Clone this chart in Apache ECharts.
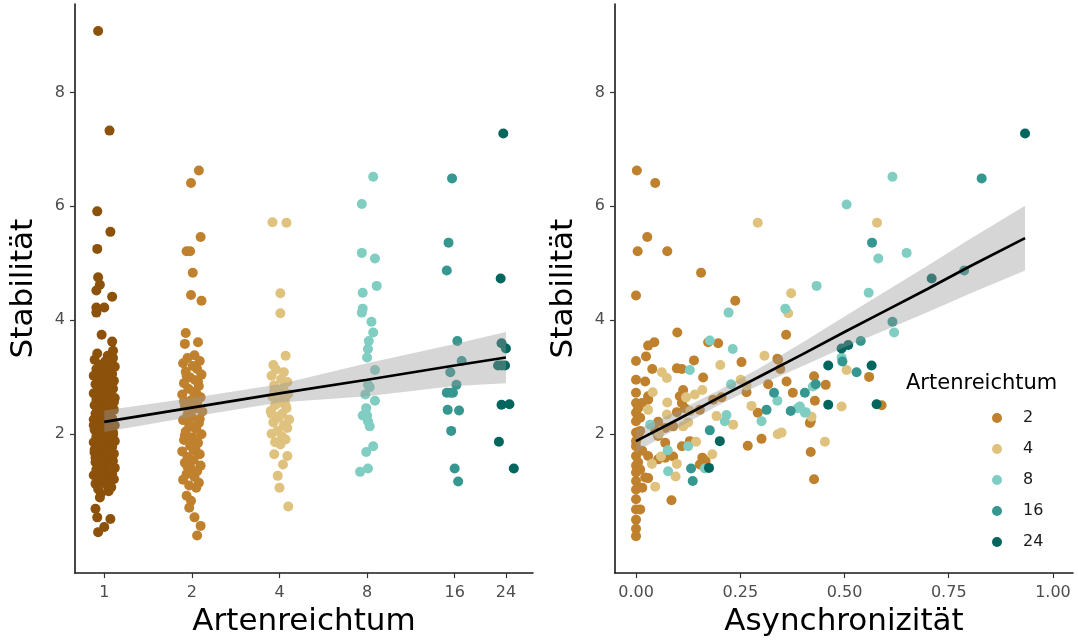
<!DOCTYPE html>
<html>
<head>
<meta charset="utf-8">
<script src="https://cdn.jsdelivr.net/npm/echarts@6/dist/echarts.min.js"></script>
<style>
html,body{margin:0;padding:0;background:#fff;}
#chart{width:1078px;height:642px;}
</style>
</head>
<body>
<div id="chart"></div>
<script>
// ---------- DATA ----------
const richnessLevels = [1, 2, 4, 8, 16, 24];
const legendLevels = ['2', '4', '8', '16', '24'];
const xTickLabelsLeft = ['1', '2', '4', '8', '16', '24'];
const xTickValuesRight = [0, 0.25, 0.5, 0.75, 1.0];
const yTickValues = [2, 4, 6, 8];

// Left panel: [jitter (log2 units), Stabilität] per richness level
const pts1 = [
  [-0.07,9.08],[0.06,7.33],[-0.08,5.91],[0.07,5.55],[-0.08,5.25],[-0.07,4.75],[-0.05,4.62],[-0.09,4.52],[0.09,4.41],[-0.09,4.22],[0.00,4.22],[-0.09,4.13],
  [-0.03,3.74],[0.09,3.62],[0.10,3.46],
  [-0.08,3.41],[0.04,3.37],[0.10,3.33],[-0.11,3.30],[0.01,3.27],[0.07,3.24],[-0.05,3.21],[0.12,3.18],[-0.09,3.14],[0.03,3.11],
  [-0.02,3.08],[0.09,3.05],[-0.12,3.02],[0.05,2.99],[-0.06,2.96],[0.11,2.93],[0.00,2.90],[-0.10,2.87],[0.07,2.85],[-0.03,2.82],
  [0.10,2.79],[-0.07,2.76],[0.02,2.74],[-0.12,2.71],[0.06,2.68],[-0.04,2.66],[0.12,2.63],[-0.09,2.60],[0.04,2.58],[-0.01,2.55],
  [0.08,2.52],[-0.11,2.50],[0.01,2.47],[-0.06,2.45],[0.11,2.42],[-0.02,2.40],[0.06,2.37],[-0.10,2.35],[0.03,2.32],[-0.05,2.30],
  [0.09,2.27],[-0.12,2.25],[0.00,2.22],[0.07,2.20],[-0.08,2.17],[0.12,2.15],[-0.03,2.12],[0.05,2.10],[-0.11,2.07],[0.02,2.05],
  [0.10,2.02],[-0.06,2.00],[0.04,1.97],[-0.09,1.95],[0.08,1.92],[-0.01,1.90],[0.12,1.87],[-0.12,1.85],[0.03,1.82],[-0.05,1.80],
  [0.09,1.77],[-0.08,1.75],[0.01,1.72],[0.06,1.70],[-0.11,1.67],[0.11,1.65],[-0.03,1.62],[0.05,1.60],[-0.07,1.57],[0.02,1.55],
  [0.10,1.52],[-0.10,1.50],[0.00,1.47],[0.07,1.45],[-0.05,1.42],[0.12,1.40],[-0.09,1.37],[0.04,1.35],[-0.02,1.32],[0.09,1.30],
  [-0.12,1.27],[0.01,1.25],[-0.06,1.22],[0.11,1.20],[-0.03,1.17],[0.06,1.15],[-0.10,1.12],[0.03,1.10],[0.08,1.06],[-0.07,1.03],
  [0.05,0.99],[-0.04,0.95],
  [0.05,3.29],[-0.07,3.05],[0.08,2.88],[-0.01,2.70],[-0.09,2.48],[0.06,2.28],[-0.04,2.09],[0.10,1.98],[-0.08,1.83],[0.03,1.68],
  [-0.10,1.58],[0.07,1.41],[-0.05,1.28],[0.11,2.56],[-0.12,2.15],[0.00,1.92],[0.09,3.16],[-0.03,2.97],[0.04,2.61],[-0.11,1.72],
  [-0.05,0.88],[-0.10,0.68],[0.07,0.50],[-0.08,0.53],[0.00,0.36],[-0.07,0.27]
];
const pts2 = [
  [0.08,6.63],[-0.01,6.41],[0.10,5.46],[-0.06,5.21],[-0.02,5.21],[0.01,4.83],[-0.01,4.44],[0.11,4.34],[-0.07,3.77],[-0.08,3.58],[0.07,3.61],
  [0.03,3.38],[-0.05,3.33],[0.09,3.28],[-0.10,3.24],[0.01,3.19],[0.06,3.14],[-0.07,3.09],[0.11,3.04],[-0.02,2.99],[0.04,2.94],
  [-0.09,2.89],[0.08,2.84],[-0.04,2.79],[0.02,2.74],[-0.11,2.69],[0.10,2.64],[-0.01,2.59],[0.06,2.54],[-0.08,2.49],[0.03,2.44],
  [0.12,2.39],[-0.05,2.34],[0.00,2.29],[-0.10,2.24],[0.08,2.19],[-0.03,2.14],[0.05,2.09],[-0.07,2.04],[0.11,1.99],[0.01,1.94],
  [-0.09,1.89],[0.07,1.84],[-0.02,1.79],[0.04,1.74],[-0.11,1.69],[0.09,1.64],[-0.05,1.59],[0.02,1.54],[-0.08,1.49],[0.10,1.44],
  [-0.01,1.39],[0.06,1.34],[-0.06,1.29],[0.03,1.24],[-0.10,1.19],[0.08,1.14],[-0.03,1.09],[0.05,1.05],
  [-0.06,3.02],[0.05,2.71],[-0.02,2.46],[0.09,2.26],[-0.08,1.97],[0.02,1.71],[-0.05,1.42],[0.07,2.92],[-0.09,2.57],[0.01,2.12],
  [-0.06,0.91],[-0.01,0.82],[-0.03,0.70],[0.03,0.53],[0.10,0.38],[0.06,0.21]
];
const pts4 = [
  [-0.08,5.72],[0.08,5.71],[0.01,4.47],[0.01,4.12],[0.07,3.37],[-0.07,3.21],
  [-0.04,3.13],[0.05,3.08],[-0.09,3.02],[0.02,2.96],[0.09,2.91],[-0.06,2.85],[0.04,2.80],[-0.02,2.74],[0.10,2.70],[-0.08,2.65],
  [0.06,2.60],[0.00,2.55],[-0.05,2.50],[0.08,2.45],[-0.10,2.40],[0.03,2.35],[-0.03,2.30],[0.11,2.25],[-0.07,2.20],[0.05,2.15],
  [0.09,2.10],[-0.02,2.05],[-0.09,2.00],[0.03,1.95],[0.07,1.90],[-0.05,1.85],[0.01,1.81],
  [-0.06,2.75],[0.07,2.50],[-0.01,2.28],[0.04,2.62],[-0.09,2.35],
  [-0.06,1.64],[0.09,1.61],[0.04,1.46],[-0.02,1.26],[0.00,1.05],[0.10,0.72]
];
const pts8 = [
  [0.07,6.52],[-0.06,6.04],[-0.06,5.18],[0.09,5.08],[0.11,4.60],[-0.05,4.48],[-0.05,4.20],[-0.06,4.13],[0.05,3.97],[0.07,3.78],
  [0.02,3.63],[0.01,3.49],[0.00,3.34],[0.09,3.12],[0.01,2.86],[0.03,2.82],[-0.02,2.69],[0.09,2.58],[-0.01,2.45],[-0.05,2.32],
  [0.00,2.32],[0.01,2.22],[0.03,2.13],[0.07,1.78],[-0.01,1.68],[0.01,1.39],[-0.08,1.33]
];
const pts16 = [
  [-0.03,6.49],[-0.07,5.36],[-0.09,4.87],[0.03,3.63],[0.08,3.28],[-0.05,3.08],[0.02,2.86],[-0.09,2.72],[-0.05,2.72],[-0.02,2.72],
  [-0.08,2.42],[0.05,2.41],[-0.04,2.05],[0.00,1.39],[0.04,1.16]
];
const pts24 = [
  [-0.03,7.28],[-0.06,4.73],[-0.05,3.59],[0.00,3.50],[-0.09,3.20],[-0.05,3.20],[-0.01,3.20],[-0.05,2.51],[0.04,2.52],[-0.08,1.86],[0.09,1.39]
];

// Right panel: [Asynchronizität, Stabilität] per richness level
const asy2 = [
  [0.002,6.63],[0.046,6.41],[0.027,5.46],[0.004,5.21],[0.075,5.21],[0.156,4.83],[0.0,4.43],[0.238,4.34],
  [0.099,3.78],[0.044,3.61],[0.029,3.55],[0.173,3.61],[0.197,3.59],[0.360,3.74],[0.0,3.28],[0.024,3.36],[0.139,3.29],[0.339,3.32],
  [0.253,3.26],[0.039,3.14],[0.098,3.15],[0.110,3.14],[0.161,2.99],[0.0,2.95],[0.022,2.92],[0.346,3.14],[0.317,2.87],[0.361,2.92],
  [0.0,2.72],[0.029,2.66],[0.113,2.77],[0.105,2.66],[0.265,2.73],[0.376,2.72],[0.205,2.64],[0.185,2.60],[0.0,2.54],[0.014,2.54],
  [0.029,2.60],[0.110,2.54],[0.117,2.45],[0.153,2.42],[0.292,2.37],[0.0,2.37],[0.010,2.28],[0.0,2.22],[0.053,2.21],[0.098,2.38],
  [0.070,2.10],[0.010,2.05],[0.0,2.02],[0.046,2.06],[0.089,2.13],[0.301,1.91],[0.268,1.79],[0.129,1.87],[0.110,1.78],[0.053,1.96],
  [0.070,1.84],[0.0,1.78],[0.0,1.87],[0.029,1.61],[0.053,1.55],[0.070,1.58],[0.089,1.60],[0.159,1.58],[0.167,1.52],[0.153,1.46],
  [0.085,0.83],[0.0,1.61],[0.0,1.44],[0.0,1.32],[0.010,1.37],[0.0,1.17],[0.022,1.23],[0.029,1.22],[0.0,1.02],[0.0,0.85],
  [0.0,0.67],[0.010,0.67],[0.0,0.49],[0.0,0.33],[0.0,0.20],
  [0.427,3.01],[0.455,2.86],[0.429,2.58],[0.589,2.50],[0.419,2.22],[0.419,1.68],[0.427,1.20],[0.559,3.00],[0.341,3.30],[0.417,2.19],
  [0.005,2.45],[0.005,1.95],[0.015,1.70],[0.005,1.50],[0.015,1.05]
];
const asy4 = [
  [0.292,5.71],[0.372,4.47],[0.365,4.12],[0.578,5.71],[0.308,3.37],[0.202,3.21],[0.062,3.08],[0.074,2.98],[0.251,2.95],[0.040,2.73],
  [0.159,2.77],[0.141,2.69],[0.120,2.64],[0.277,2.49],[0.029,2.42],[0.074,2.34],[0.193,2.31],[0.233,2.16],[0.113,2.13],[0.340,1.99],
  [0.349,2.02],[0.144,1.86],[0.038,1.47],[0.098,1.47],[0.183,1.64],[0.095,1.25],[0.046,1.07],[0.421,2.30],[0.453,1.86],[0.493,2.48],
  [0.505,3.12],[0.130,2.40],[0.075,2.55],[0.125,2.20],[0.055,2.00],[0.265,2.85],[0.060,1.60]
];
const asy8 = [
  [0.433,4.60],[0.358,4.20],[0.222,4.13],[0.615,6.52],[0.505,6.03],[0.581,5.08],[0.649,5.18],[0.558,4.48],[0.619,3.78],[0.493,3.34],
  [0.424,2.83],[0.393,2.48],[0.405,2.37],[0.177,3.64],[0.232,3.49],[0.129,3.12],[0.228,2.87],[0.339,2.58],[0.388,2.45],[0.407,2.38],
  [0.034,2.16],[0.217,2.33],[0.213,2.22],[0.301,2.22],[0.125,1.78],[0.076,1.71],[0.165,1.39],[0.077,1.34]
];
const asy16 = [
  [0.829,6.49],[0.566,5.36],[0.787,4.87],[0.615,3.97],[0.539,3.63],[0.495,3.27],[0.529,3.08],[0.431,2.87],[0.405,2.72],[0.331,2.72],
  [0.313,2.42],[0.371,2.40],[0.177,2.06],[0.132,1.39],[0.136,1.17]
];
const asy24 = [
  [0.933,7.28],[0.709,4.73],[0.493,3.50],[0.509,3.56],[0.461,3.20],[0.565,3.20],[0.461,2.51],[0.577,2.52],[0.201,1.87],[0.175,1.40]
];

// Regression fits and confidence bands
const leftFitRichness = [1, 2, 4, 8, 16, 24];
const leftFitY  = [2.21, 2.46, 2.71, 2.95, 3.20, 3.34];
const leftFitLo = [2.03, 2.30, 2.55, 2.66, 2.84, 2.89];
const leftFitHi = [2.41, 2.63, 2.87, 3.24, 3.58, 3.79];

const rightFitX  = [0, 0.1, 0.2, 0.3, 0.4, 0.5, 0.6, 0.7, 0.8, 0.933];
const rightFitY  = [1.87, 2.25, 2.64, 3.02, 3.40, 3.79, 4.17, 4.55, 4.94, 5.44];
const rightFitLo = [1.68, 2.10, 2.51, 2.87, 3.19, 3.52, 3.83, 4.14, 4.46, 4.87];
const rightFitHi = [2.06, 2.40, 2.77, 3.17, 3.61, 4.06, 4.51, 4.96, 5.42, 6.01];

const levelColors = ['#8C510A', '#BF812D', '#DFC27D', '#80CDC1', '#35978F', '#01665E'];

// ---------- CHART ----------
const FONT = "'DejaVu Sans', sans-serif";
const lg = v => Math.log2(v);
const leftPts = [pts1, pts2, pts4, pts8, pts16, pts24];
const rightPts = [asy2, asy4, asy8, asy16, asy24];

const axisLineStyle = { show: true, onZero: false, lineStyle: { color: '#1a1a1a', width: 1.6 } };
const tickStyle = { lineStyle: { color: '#333', width: 1.2 } };

function yAxisDef(gridIndex) {
  return {
    type: 'value', gridIndex, min: -0.45, max: 9.556,
    name: 'Stabilität', nameLocation: 'middle', nameGap: 36,
    nameTextStyle: { fontFamily: FONT, fontSize: 31, color: '#000' },
    axisLine: axisLineStyle,
    axisTick: Object.assign({ show: true, length: 5, customValues: yTickValues }, tickStyle),
    axisLabel: { customValues: yTickValues, margin: 10, fontFamily: FONT, fontSize: 16, color: '#4D4D4D' },
    splitLine: { show: false }
  };
}

const leftTickPos = richnessLevels.map(lg);

const series = [];
leftPts.forEach((arr, i) => {
  series.push({
    type: 'scatter', name: 'r' + richnessLevels[i], xAxisIndex: 0, yAxisIndex: 0,
    symbolSize: 10, z: 2, silent: true,
    itemStyle: { color: levelColors[i], opacity: 1 },
    data: arr.map(p => [lg(richnessLevels[i]) + p[0], p[1]])
  });
});
rightPts.forEach((arr, i) => {
  series.push({
    type: 'scatter', name: legendLevels[i], xAxisIndex: 1, yAxisIndex: 1,
    symbolSize: 10, z: 2, silent: true,
    itemStyle: { color: levelColors[i + 1], opacity: 1 },
    data: arr.map(p => [p[0], p[1]])
  });
});

function bandSeries(axisIdx, xs, lo, hi) {
  return {
    type: 'custom', xAxisIndex: axisIdx, yAxisIndex: axisIdx, z: 3, silent: true,
    data: [[xs[0], lo[0]]],
    renderItem: (params, api) => {
      const top = xs.map((x, i) => api.coord([x, hi[i]]));
      const bot = xs.map((x, i) => api.coord([x, lo[i]])).reverse();
      return { type: 'polygon', shape: { points: top.concat(bot) }, style: { fill: 'rgba(153,153,153,0.4)' } };
    }
  };
}
const leftXs = leftFitRichness.map(lg);
series.push(bandSeries(0, leftXs, leftFitLo, leftFitHi));
series.push(bandSeries(1, rightFitX, rightFitLo, rightFitHi));
series.push({
  type: 'line', xAxisIndex: 0, yAxisIndex: 0, z: 4, silent: true, symbol: 'none',
  lineStyle: { color: '#000', width: 2.7 },
  data: leftXs.map((x, i) => [x, leftFitY[i]])
});
series.push({
  type: 'line', xAxisIndex: 1, yAxisIndex: 1, z: 4, silent: true, symbol: 'none',
  lineStyle: { color: '#000', width: 2.7 },
  data: rightFitX.map((x, i) => [x, rightFitY[i]])
});

const option = {
  animation: false,
  backgroundColor: '#fff',
  grid: [
    { left: 75, top: 4, width: 458, height: 572 },
    { left: 615, top: 4, width: 458, height: 572 }
  ],
  xAxis: [
    {
      type: 'value', gridIndex: 0, min: -0.334, max: 4.894,
      name: 'Artenreichtum', nameLocation: 'middle', nameGap: 30,
      nameTextStyle: { fontFamily: FONT, fontSize: 31, color: '#000' },
      axisLine: axisLineStyle,
      axisTick: Object.assign({ show: true, length: 5, customValues: leftTickPos }, tickStyle),
      axisLabel: {
        customValues: leftTickPos, margin: 12, fontFamily: FONT, fontSize: 16, color: '#4D4D4D',
        formatter: v => { const idx = leftTickPos.findIndex(t => Math.abs(t - v) < 1e-6); return idx >= 0 ? xTickLabelsLeft[idx] : ''; }
      },
      splitLine: { show: false }
    },
    {
      type: 'value', gridIndex: 1, min: -0.0504, max: 1.048,
      name: 'Asynchronizität', nameLocation: 'middle', nameGap: 30,
      nameTextStyle: { fontFamily: FONT, fontSize: 31, color: '#000' },
      axisLine: axisLineStyle,
      axisTick: Object.assign({ show: true, length: 5, customValues: xTickValuesRight }, tickStyle),
      axisLabel: {
        customValues: xTickValuesRight, margin: 12, fontFamily: FONT, fontSize: 16, color: '#4D4D4D',
        formatter: v => v.toFixed(2)
      },
      splitLine: { show: false }
    }
  ],
  yAxis: [yAxisDef(0), yAxisDef(1)],
  title: {
    text: 'Artenreichtum', left: 906, top: 373, padding: 0,
    textStyle: { fontFamily: FONT, fontSize: 21, fontWeight: 'normal', color: '#000' }
  },
  legend: {
    data: legendLevels, orient: 'vertical', left: 992, top: 410, padding: 0,
    itemWidth: 42, itemHeight: 10, itemGap: 15, icon: 'circle', selectedMode: false,
    textStyle: { fontFamily: FONT, fontSize: 16, color: '#1a1a1a' }
  },
  series
};

const chart = echarts.init(document.getElementById('chart'), null, { renderer: 'canvas' });
chart.setOption(option);
</script>
</body>
</html>
